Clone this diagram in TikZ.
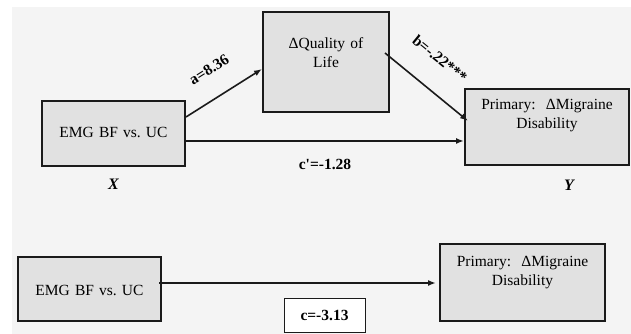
\documentclass[tikz,border=0pt]{standalone}
\usepackage{fontspec}
\setmainfont{Liberation Serif}
\usetikzlibrary{arrows.meta,positioning}

\definecolor{panelgray}{HTML}{F4F4F4}
\definecolor{boxgray}{HTML}{E1E1E1}
\definecolor{inkgray}{HTML}{1A1A1A}

\tikzset{
  varbox/.style={draw=inkgray,line width=2pt,fill=boxgray,inner sep=0pt,
    align=center,anchor=north west,font=\fontsize{15.5}{19}\selectfont},
  effect/.style={font=\bfseries\fontsize{15.5}{19}\selectfont,inner sep=0pt},
  varname/.style={font=\bfseries\itshape\fontsize{16}{19}\selectfont,inner sep=0pt},
  effarrow/.style={draw=inkgray,line width=1.6pt,-{Latex[length=8pt,width=6pt]}},
}

\begin{document}
\begin{tikzpicture}[x=1pt,y=1pt]
  % Canvas and shaded panel.
  \useasboundingbox (0,0) rectangle (631,334);
  \path[fill=panelgray] (12,0) rectangle (631,327);

  % Mediation model.
  \node[varbox,text width=143pt,text height=37pt,text depth=28pt] (ebf) at (41,234) {EMG BF vs.\ UC};
  \node[varbox,text width=126pt,text height=37pt,text depth=63pt] (qol) at (262,323) {ΔQuality of\\Life};
  \node[varbox,text width=164pt,text height=21pt,text depth=55pt] (mdi) at (464,246) {Primary:\ \ ΔMigraine\\Disability};
  \node[varname,below=12pt of ebf] (xlbl) {X};
  \node[varname,below=14pt of mdi,xshift=22pt] (ylbl) {Y};

  \draw[effarrow] ([yshift=16.5pt]ebf.east) -- ([yshift=-7pt]qol.west)
    node[effect,sloped,above=22pt,pos=0.5] (lbla) {a=8.36};
  \draw[effarrow] ([xshift=-5pt,yshift=9pt]qol.east) -- ([xshift=4pt,yshift=6pt]mdi.west)
    node[effect,sloped,above=24pt,pos=0.43] (lblb) {b=-.22***};
  \draw[effarrow] ([yshift=-7.5pt]ebf.east) -- ([yshift=-7.5pt]ebf.east -| mdi.west)
    node[effect,below=17pt,pos=0.5] (lblcp) {c\textquotesingle=-1.28};

  % Total effect model.
  \node[varbox,text width=143pt,text height=39pt,text depth=25pt] (ebf2) at (17,78) {EMG BF vs.\ UC};
  \node[varbox,text width=165pt,text height=23pt,text depth=54pt] (mdi2) at (439,91) {Primary:\ \ ΔMigraine\\Disability};
  \node[effect,draw=inkgray,line width=0.8pt,fill=white,minimum width=81pt,minimum height=34pt] (ctot) at (324.5,19) {c=-3.13};

  \draw[effarrow] ([xshift=-3pt,yshift=6pt]ebf2.east) -- ([xshift=-3pt,yshift=6pt]ebf2.east -| mdi2.west);
\end{tikzpicture}
\end{document}
